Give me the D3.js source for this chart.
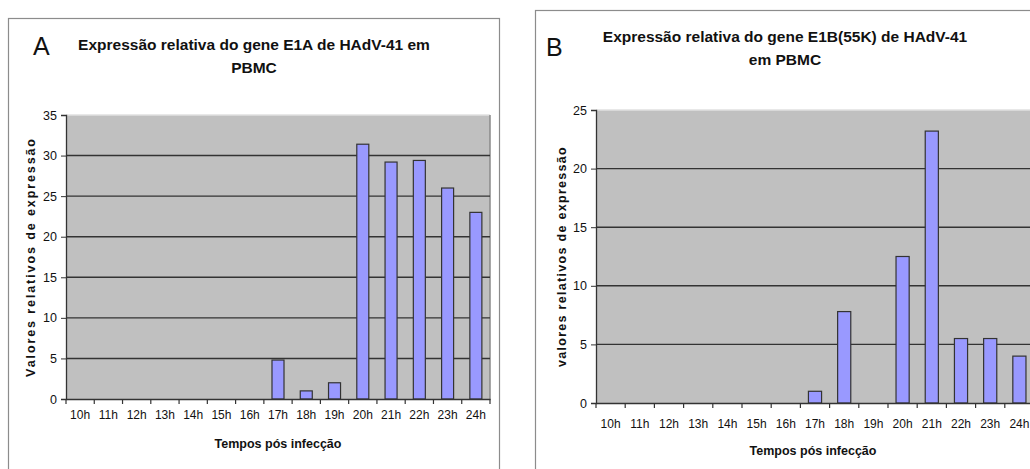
<!DOCTYPE html>
<html><head><meta charset="utf-8">
<script src="https://cdn.jsdelivr.net/npm/d3@7"></script>
<style>body{margin:0;background:#fff}svg{display:block;font-family:"Liberation Sans",Arial,sans-serif}</style>
</head><body>
<svg id="c" width="1030" height="469"></svg>
<script>
const categories = ["10h","11h","12h","13h","14h","15h","16h","17h","18h","19h","20h","21h","22h","23h","24h"];
const valuesE1A = [0,0,0,0,0,0,0,4.8,1.0,2.0,31.4,29.2,29.4,26.0,23.0];
const valuesE1B = [0,0,0,0,0,0,0,1.0,7.8,0,12.5,23.2,5.5,5.5,4.0];
const ticksA = [0,5,10,15,20,25,30,35];
const ticksB = [0,5,10,15,20,25];

const svg = d3.select("#c");

function panel(cfg){
  const g = svg.append("g");
  g.append("rect").attr("x",cfg.fx).attr("y",cfg.fy).attr("width",cfg.fw).attr("height",cfg.fh)
    .attr("fill","#fff").attr("stroke","#8c8c8c").attr("stroke-width",1.2);
  g.append("text").attr("x",cfg.lx).attr("y",cfg.ly).attr("font-size",25).attr("fill","#111").text(cfg.letter);
  cfg.title.forEach((t,i)=>{
    g.append("text").attr("x",cfg.tx).attr("y",cfg.ty + i*23).attr("text-anchor","middle")
      .attr("font-size",15.5).attr("font-weight","bold").attr("fill","#111").text(t);
  });
  const x = d3.scaleBand().domain(categories).range([cfg.x0,cfg.x1]).paddingInner(cfg.pad).paddingOuter(cfg.pad/2);
  const y = d3.scaleLinear().domain([0,cfg.max]).range([cfg.y0,cfg.y1]);
  g.append("rect").attr("x",cfg.x0).attr("y",cfg.y1).attr("width",cfg.x1-cfg.x0).attr("height",cfg.y0-cfg.y1)
    .attr("fill","#c0c0c0");
  g.append("line").attr("x1",cfg.x0).attr("x2",cfg.x1).attr("y1",cfg.y1).attr("y2",cfg.y1).attr("stroke","#e0e0e0").attr("stroke-width",1.5);
  g.append("line").attr("x1",cfg.x1).attr("x2",cfg.x1).attr("y1",cfg.y1).attr("y2",cfg.y0).attr("stroke","#8a8a8a").attr("stroke-width",1.5);
  g.selectAll(".grid").data(cfg.ticks.filter(t=>t>0 && t<cfg.max)).enter().append("line")
    .attr("x1",cfg.x0).attr("x2",cfg.x1).attr("y1",d=>y(d)).attr("y2",d=>y(d))
    .attr("stroke","#333").attr("stroke-width",1.4);
  g.selectAll(".bar").data(cfg.values.map((v,i)=>({c:categories[i],v}))).enter().append("rect")
    .attr("x",d=>x(d.c)).attr("width",x.bandwidth())
    .attr("y",d=>y(d.v)).attr("height",d=>Math.max(0,cfg.y0-y(d.v)))
    .attr("fill",d=>d.v>0?"#9999ff":"none").attr("stroke",d=>d.v>0?"#333":"none").attr("stroke-width",1.2);
  const ya = g.append("g").attr("transform",`translate(${cfg.x0},0)`)
    .call(d3.axisLeft(y).tickValues(cfg.ticks).tickSize(5).tickPadding(4));
  ya.select(".domain").attr("stroke","#333").attr("stroke-width",1.3);
  ya.selectAll(".tick line").attr("stroke","#333");
  ya.selectAll("text").attr("font-size",12.5).attr("fill","#111").style("font-family","Liberation Sans, Arial");
  const xa = g.append("g").attr("transform",`translate(0,${cfg.y0})`)
    .call(d3.axisBottom(x).tickSize(0).tickPadding(cfg.xpad));
  xa.select(".domain").attr("stroke","#333").attr("stroke-width",1.3);
  xa.selectAll("text").attr("font-size",12).attr("fill","#111").style("font-family","Liberation Sans, Arial");
  const step = x.step();
  g.selectAll(".ct").data(d3.range(categories.length+1)).enter().append("line")
    .attr("x1",d=>cfg.x0+d*step).attr("x2",d=>cfg.x0+d*step)
    .attr("y1",cfg.y0).attr("y2",cfg.y0+5).attr("stroke","#333").attr("stroke-width",1.2);
  g.append("text").attr("x",(cfg.x0+cfg.x1c)/2).attr("y",cfg.xty).attr("text-anchor","middle")
    .attr("font-size",12.5).attr("font-weight","bold").attr("fill","#111").text("Tempos pós infecção");
  g.append("text").attr("transform",`translate(${cfg.ytx},${(cfg.y0+cfg.y1)/2}) rotate(-90)`)
    .attr("text-anchor","middle").attr("font-size",12.5).attr("font-weight","bold")
    .attr("letter-spacing",cfg.ls).attr("fill","#111").text(cfg.ytitle);
}

panel({fx:8.5,fy:18.5,fw:491,fh:470,letter:"A",lx:33,ly:55,
  title:["Expressão relativa do gene E1A de HAdV-41 em","PBMC"],tx:254,ty:50,
  x0:66,x1:490,x1c:490,y0:399,y1:115,max:35,ticks:ticksA,values:valuesE1A,pad:0.575,xpad:11,
  xty:448,ytx:35,ytitle:"Valores relativos de expressão",ls:1.9});

panel({fx:535.5,fy:10.5,fw:520,fh:470,letter:"B",lx:546,ly:56,
  title:["Expressão relativa do gene E1B(55K) de HAdV-41","em PBMC"],tx:785,ty:42,
  x0:596,x1:1034,x1c:1030,y0:403,y1:110,max:25,ticks:ticksB,values:valuesE1B,pad:0.55,xpad:16,
  xty:455,ytx:566,ytitle:"valores relativos de expressão",ls:1.3});
</script>
</body></html>
